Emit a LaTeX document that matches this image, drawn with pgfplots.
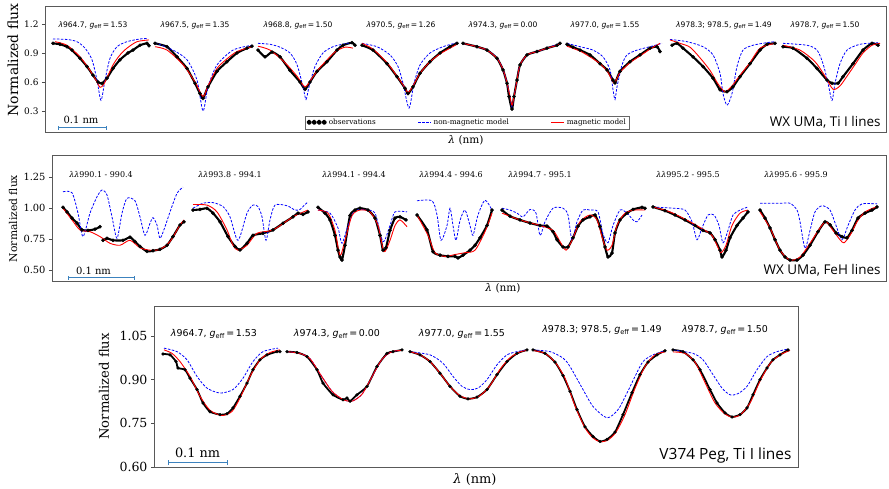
\documentclass[border=0pt]{standalone}
\usepackage{pgfplots}
\pgfplotsset{compat=1.18}
\usepackage{fontspec}
\setmainfont{DejaVu Serif}
\newfontfamily\annfont{DejaVu Sans}
\newfontfamily\cornerfont{Open Sans}
\definecolor{sbar}{RGB}{60,130,190}
\newcommand\fs[1]{\fontsize{#1}{#1}\selectfont}
\newcommand\glab[2]{{\annfont{\itshape λ}#1, {\itshape g}\textsubscript{eff}\,=\,#2}}
\newcommand\flab[1]{{\itshape λλ}#1}
\pgfplotsset{
 panel/.style={scale only axis, anchor=south west, xtick=\empty, ytick pos=left,
   tick align=outside, major tick length=3bp, tick style={black!70, line width=0.6pt},
   axis line style={black!65, line width=0.9pt}, unbounded coords=jump, clip=false,
   /pgf/number format/assume math mode=true},
 obs/.style={black, line width=2.1pt, line join=round, line cap=round, smooth, tension=0.35,
   mark=*, mark size=1.75pt, mark options={line width=0.2pt}},
 nonmag/.style={blue, line width=0.8pt, dash pattern=on 2.5pt off 1.5pt, smooth, tension=0.45},
 mag/.style={red, line width=0.9pt, smooth, tension=0.45}
}
\begin{document}
\begin{tikzpicture}
\useasboundingbox (0,0) rectangle (889bp,489bp);
% ---------------- TOP PANEL ----------------
\begin{axis}[panel, at={(45bp,357bp)}, width=841bp, height=126bp,
  xmin=45, xmax=886, ymin=0.083, ymax=1.386,
  ytick={0.3,0.6,0.9,1.2},
  yticklabel style={font=\fs{9}, /pgf/number format/fixed, /pgf/number format/fixed zerofill, /pgf/number format/precision=1},
  legend columns=3, legend cell align=left,
  legend style={at={(0.502,0.077)}, anchor=center, draw=black!60, line width=0.5pt, fill=white,
    inner sep=1pt, font=\fs{7.3}, /tikz/every even column/.append style={column sep=40bp}}]
\addplot[obs, legend image code/.code={\foreach \i in {0,5,10,15}{\fill[black] (\i bp,0bp) circle (1.6bp);}}] coordinates {
(53,1.00)(60,0.99)(67,0.965)(72,0.93)(80,0.845)(87,0.76)(93,0.67)(98,0.60)(102,0.585)(107,0.64)(113,0.74)(120,0.83)(128,0.90)(133,0.93)(140,0.98)(147,1.00)(149,0.975)
(nan,nan)
(155,1.0)(167,0.965)(177,0.86)(187,0.74)(195,0.587)(200,0.48)(203,0.43)(208,0.55)(217,0.71)(227,0.81)(237,0.90)(247,0.95)(252,0.97)
(nan,nan)
(258,0.93)(265,0.86)(272,0.91)(280,0.86)(290,0.72)(300,0.60)(305,0.525)(310,0.60)(317,0.71)(327,0.81)(337,0.93)(343,0.98)(352,1.007)(355,0.98)
(nan,nan)
(362,0.98)(373,0.93)(387,0.79)(397,0.655)(405,0.535)(408,0.48)(413,0.55)(420,0.69)(430,0.81)(440,0.90)(450,0.965)(457,1.0)
(nan,nan)
(463,1.0)(477,0.965)(487,0.93)(497,0.845)(503,0.725)(507,0.587)(509,0.45)(512,0.32)(514,0.45)(517,0.62)(520,0.776)(527,0.88)(537,0.915)(547,0.95)(557,0.98)(560,1.0)
(nan,nan)
(567,0.99)(573,0.96)(580,0.93)(590,0.88)(600,0.79)(607,0.725)(613,0.62)(615,0.59)(620,0.71)(630,0.81)(640,0.88)(650,0.95)(657,0.965)(660,0.915)
(nan,nan)
(672,0.98)(677,1.0)(683,0.95)(693,0.86)(703,0.76)(713,0.64)(720,0.52)(727,0.50)(733,0.55)(740,0.655)(750,0.79)(760,0.93)(767,0.99)(775,1.0)
(nan,nan)
(783,0.965)(793,0.95)(807,0.845)(817,0.74)(827,0.62)(832,0.587)(838,0.587)(843,0.655)(853,0.79)(863,0.93)(872,1.0)(878,0.98)
};
\addlegendentry{observations}
\addplot[nonmag, legend image code/.code={\draw[blue, line width=0.8pt, dash pattern=on 2.5pt off 1.5pt] (0bp,0bp) -- (13bp,0bp);}] coordinates {
(53,1.045)(67,1.04)(77,1.017)(85,0.95)(92,0.83)(97,0.62)(101,0.41)(105,0.62)(110,0.845)(117,0.965)(127,1.017)(140,1.045)(148,1.05)
(nan,nan)
(155,1.007)(173,0.93)(187,0.83)(197,0.62)(203,0.30)(208,0.55)(217,0.776)(233,0.93)(252,0.98)
(nan,nan)
(258,1.0)(270,0.99)(280,0.96)(290,0.90)(297,0.78)(303,0.55)(306,0.42)(309,0.55)(315,0.76)(323,0.90)(333,0.965)(347,1.0)(353,1.007)
(nan,nan)
(362,1.0)(377,0.965)(390,0.88)(398,0.76)(403,0.587)(409,0.33)(414,0.587)(420,0.776)(430,0.90)(443,0.965)(457,1.007)
(nan,nan)
(463,1.0)(477,0.965)(487,0.93)(497,0.85)(503,0.73)(507,0.59)(510,0.45)(512,0.34)(514,0.45)(517,0.62)(520,0.776)(527,0.88)(537,0.915)(547,0.95)(560,1.0)
(nan,nan)
(567,1.0)(580,0.965)(593,0.93)(603,0.86)(610,0.725)(613,0.52)(615,0.42)(617,0.55)(622,0.776)(627,0.88)(637,0.93)(650,0.965)(662,1.0)
(nan,nan)
(670,1.04)(687,1.017)(703,0.965)(713,0.88)(720,0.69)(723,0.48)(727,0.36)(732,0.48)(737,0.76)(743,0.93)(753,0.98)(767,1.007)(775,1.017)
(nan,nan)
(783,1.0)(807,0.98)(817,0.93)(823,0.79)(828,0.587)(832,0.41)(835,0.587)(840,0.79)(847,0.93)(860,0.99)(878,1.007)
};
\addlegendentry{non-magnetic model}
\addplot[mag, legend image code/.code={\draw[red, line width=0.9pt] (0bp,0bp) -- (13bp,0bp);}] coordinates {
(55,1.017)(67,0.98)(80,0.86)(90,0.72)(97,0.60)(100,0.545)(104,0.58)(113,0.776)(120,0.88)(127,0.95)(137,1.017)(149,1.035)
(nan,nan)
(155,0.965)(167,0.93)(183,0.78)(195,0.60)(203,0.45)(208,0.56)(217,0.74)(227,0.84)(237,0.915)(252,0.965)
(nan,nan)
(258,0.97)(270,0.93)(285,0.80)(297,0.66)(305,0.55)(312,0.64)(320,0.75)(335,0.91)(345,0.96)(353,0.95)
(nan,nan)
(362,1.0)(373,0.94)(387,0.80)(397,0.66)(405,0.54)(408,0.49)(413,0.56)(420,0.69)(430,0.81)(440,0.89)(450,0.95)(457,0.99)
(nan,nan)
(463,1.0)(477,0.965)(487,0.93)(497,0.845)(503,0.73)(507,0.59)(510,0.45)(512,0.36)(514,0.45)(517,0.62)(520,0.776)(527,0.88)(537,0.915)(547,0.95)(557,0.98)(560,1.0)
(nan,nan)
(567,0.97)(580,0.92)(590,0.86)(600,0.79)(608,0.70)(614,0.59)(620,0.70)(630,0.80)(640,0.87)(650,0.94)(660,1.0)
(nan,nan)
(670,1.035)(680,1.0)(690,0.96)(700,0.85)(710,0.72)(718,0.58)(725,0.50)(732,0.56)(740,0.67)(750,0.80)(760,0.95)(775,1.0)
(nan,nan)
(783,0.98)(800,0.93)(815,0.81)(825,0.66)(833,0.525)(840,0.56)(847,0.66)(855,0.78)(863,0.90)(872,0.98)(880,1.0)
};
\addlegendentry{magnetic model}
\end{axis}
% ---------------- MIDDLE PANEL ----------------
\begin{axis}[panel, at={(52bp,207.3bp)}, width=834bp, height=126bp,
  xmin=52, xmax=886, ymin=0.405, ymax=1.425,
  ytick={0.5,0.75,1.0,1.25},
  yticklabel style={font=\fs{9.9}, /pgf/number format/fixed, /pgf/number format/fixed zerofill, /pgf/number format/precision=2}]
\addplot[obs] coordinates {
(63,1.007)(67,0.97)(72,0.92)(77,0.88)(82,0.824)(88,0.82)(95,0.83)(100,0.85)
(nan,nan)
(103,0.74)(107,0.756)(113,0.74)(123,0.74)(130,0.765)(135,0.73)(140,0.69)(147,0.65)(153,0.656)(160,0.667)(167,0.70)(173,0.77)(180,0.864)(184,0.89)
(nan,nan)
(193,0.985)(200,0.99)(207,0.999)(213,0.96)(220,0.89)(228,0.77)(235,0.69)(240,0.662)(247,0.716)(253,0.78)(263,0.797)(273,0.824)(283,0.878)(293,0.93)(298,0.96)(303,0.95)(308,0.97)
(nan,nan)
(318,1.007)(325,0.96)(330,0.905)(335,0.78)(338,0.66)(340,0.605)(342,0.58)(345,0.70)(350,0.94)(355,0.985)(360,1.0)(368,0.985)(375,0.92)(380,0.78)(383,0.66)(386,0.68)(390,0.82)(395,0.92)(400,0.93)(406,0.905)
(nan,nan)
(417,0.945)(427,0.824)(433,0.648)(440,0.62)(448,0.61)(455,0.61)(458,0.597)(463,0.62)(470,0.66)(475,0.70)(480,0.76)(487,0.86)(492,0.985)
(nan,nan)
(502,0.985)(510,0.935)(520,0.905)(530,0.88)(540,0.86)(547,0.855)(553,0.81)(557,0.745)(563,0.686)(568,0.686)(573,0.76)(578,0.855)(583,0.905)(590,0.93)(595,0.945)(600,0.85)(605,0.686)(608,0.605)(612,0.637)(615,0.80)(620,0.905)(627,0.96)(633,0.99)(642,1.007)(645,0.999)
(nan,nan)
(653,1.01)(665,0.98)(675,0.945)(685,0.905)(695,0.86)(703,0.82)(710,0.80)(715,0.745)(720,0.66)(722,0.605)(726,0.66)(730,0.76)(737,0.86)(743,0.92)(748,0.97)
(nan,nan)
(760,0.985)(765,0.92)(770,0.84)(775,0.745)(780,0.66)(785,0.605)(790,0.58)(797,0.58)(803,0.62)(810,0.70)(818,0.81)(825,0.89)(830,0.865)(836,0.80)(842,0.77)(847,0.76)(852,0.82)(858,0.92)(865,0.96)(872,0.985)(877,1.01)
};
\addplot[nonmag] coordinates {
(63,1.133)(72,1.125)(78,0.96)(83,0.77)(90,0.96)(97,1.093)(102,1.147)(107,1.107)(112,0.93)(117,0.756)(122,0.96)(127,1.08)(135,1.06)(140,0.93)(145,0.78)(150,0.878)(153,0.923)(157,0.864)(160,0.756)(165,0.85)(170,0.97)(177,1.12)(183,1.17)
(nan,nan)
(193,1.0)(203,1.04)(213,1.045)(223,1.013)(230,0.93)(238,0.74)(247,0.96)(253,1.025)(258,1.013)(262,0.93)(266,0.74)(270,0.905)(275,1.025)(287,1.02)(295,0.985)(300,0.99)(305,1.03)(308,1.05)
(nan,nan)
(318,0.985)(330,0.96)(338,0.84)(342,0.716)(348,0.86)(355,0.985)(365,0.985)(375,0.96)(383,0.73)(390,0.86)(395,0.97)(407,0.97)
(nan,nan)
(417,1.06)(432,1.06)(437,0.945)(441,0.74)(447,0.86)(450,1.0)(453,0.86)(456,0.74)(460,0.9)(465,0.985)(470,0.86)(473,0.78)(478,0.945)(485,1.065)(492,0.985)
(nan,nan)
(502,1.0)(510,0.985)(517,0.96)(523,0.93)(530,0.99)(536,0.96)(540,0.78)(545,0.89)(553,1.0)(563,1.0)(568,0.945)(572,0.74)(577,0.89)(583,0.985)(590,0.985)(598,0.97)(603,0.79)(608,0.72)(613,0.86)(620,0.985)(627,0.96)(633,0.905)(637,0.89)(642,0.945)
(nan,nan)
(653,1.01)(673,1.0)(685,0.985)(692,0.89)(697,0.745)(702,0.84)(708,0.945)(714,0.945)(719,0.86)(723,0.72)(728,0.82)(733,0.945)(740,0.985)(748,1.01)
(nan,nan)
(760,1.04)(780,1.04)(790,1.04)(797,0.985)(800,0.89)(805,0.676)(810,0.82)(815,0.97)(822,1.02)(830,0.985)(836,0.86)(842,0.745)(848,0.86)(855,0.985)(862,1.035)(877,1.035)
};
\addplot[mag] coordinates {
(63,1.0)(72,0.905)(80,0.824)(90,0.81)(100,0.77)(110,0.716)(120,0.70)(130,0.74)(140,0.68)(150,0.66)(160,0.667)(170,0.73)(180,0.864)(184,0.905)
(nan,nan)
(193,1.03)(207,1.025)(217,0.97)(227,0.824)(233,0.70)(238,0.66)(247,0.70)(257,0.797)(273,0.824)(293,0.93)(308,0.985)
(nan,nan)
(318,0.985)(328,0.96)(335,0.82)(340,0.617)(345,0.74)(352,0.94)(360,0.985)(370,0.97)(378,0.86)(384,0.648)(390,0.74)(395,0.86)(400,0.905)(407,0.85)
(nan,nan)
(417,0.945)(428,0.78)(435,0.64)(445,0.61)(455,0.625)(465,0.64)(475,0.66)(485,0.81)(492,0.96)
(nan,nan)
(502,0.96)(520,0.905)(540,0.86)(553,0.82)(560,0.73)(566,0.66)(572,0.74)(580,0.89)(590,0.945)(597,0.905)(603,0.74)(607,0.66)(612,0.70)(617,0.86)(625,0.96)(635,0.985)(645,0.985)
(nan,nan)
(653,1.01)(670,0.97)(690,0.89)(705,0.82)(712,0.78)(717,0.70)(721,0.64)(726,0.70)(732,0.86)(740,0.96)(748,0.985)
(nan,nan)
(760,0.97)(770,0.84)(780,0.66)(790,0.58)(800,0.605)(810,0.716)(820,0.84)(826,0.89)(833,0.82)(840,0.745)(844,0.72)(850,0.78)(857,0.89)(865,0.97)(877,1.013)
};
\end{axis}
% ---------------- BOTTOM PANEL ----------------
\begin{axis}[panel, at={(154bp,21.3bp)}, width=644bp, height=161.7bp,
  xmin=154, xmax=798, ymin=0.598, ymax=1.1525,
  ytick={0.6,0.75,0.9,1.05},
  yticklabel style={font=\fs{12.6}, /pgf/number format/fixed, /pgf/number format/fixed zerofill, /pgf/number format/precision=2},
  obs/.append style={line width=1.8pt, mark size=1.55pt}]
\addplot[obs] coordinates {
(163,0.988)(170,0.985)(176,0.962)(178,0.94)(185,0.934)(190,0.905)(197,0.866)(203,0.82)(210,0.79)(220,0.78)(227,0.783)(233,0.803)(240,0.843)(247,0.888)(253,0.934)(260,0.968)(267,0.985)(277,0.996)(280,0.996)
(nan,nan)
(287,0.996)(297,0.993)(307,0.979)(317,0.934)(323,0.888)(333,0.848)(343,0.831)(347,0.837)(350,0.826)(357,0.848)(367,0.877)(377,0.945)(387,0.99)(393,0.996)(402,1.002)
(nan,nan)
(410,0.996)(420,0.985)(430,0.962)(440,0.922)(450,0.877)(460,0.843)(468,0.834)(477,0.84)(487,0.866)(497,0.917)(507,0.962)(517,0.99)(527,1.002)
(nan,nan)
(533,1.002)(545,0.99)(555,0.96)(563,0.914)(570,0.86)(577,0.797)(585,0.738)(593,0.705)(600,0.688)(607,0.695)(615,0.72)(623,0.78)(632,0.855)(640,0.917)(648,0.96)(657,0.985)(665,0.999)
(nan,nan)
(673,1.002)(683,0.996)(693,0.968)(700,0.934)(710,0.866)(717,0.82)(725,0.786)(732,0.772)(740,0.78)(747,0.803)(753,0.848)(760,0.9)(767,0.94)(773,0.968)(780,0.985)(788,1.002)
};
\addplot[nonmag] coordinates {
(164,1.008)(177,0.996)(187,0.968)(197,0.911)(207,0.871)(220,0.854)(233,0.866)(243,0.905)(253,0.962)(263,0.996)(278,1.008)
(nan,nan)
(287,0.996)(300,0.99)(310,0.972)(320,0.92)(332,0.86)(343,0.832)(352,0.826)(362,0.85)(372,0.91)(382,0.97)(392,0.996)(402,1.0)
(nan,nan)
(410,0.996)(430,0.985)(443,0.956)(453,0.911)(462,0.877)(470,0.866)(478,0.871)(487,0.9)(497,0.951)(507,0.985)(517,0.996)(527,1.002)
(nan,nan)
(533,1.002)(550,0.996)(563,0.974)(570,0.945)(583,0.866)(593,0.808)(607,0.769)(618,0.797)(627,0.854)(635,0.911)(643,0.962)(653,0.985)(665,0.999)
(nan,nan)
(673,1.002)(693,0.99)(703,0.968)(713,0.917)(722,0.871)(730,0.848)(738,0.852)(747,0.877)(757,0.934)(767,0.979)(777,0.996)(788,1.005)
};
\addplot[mag] coordinates {
(164,1.002)(172,0.99)(180,0.962)(190,0.911)(200,0.843)(210,0.795)(222,0.777)(232,0.791)(240,0.837)(250,0.911)(260,0.968)(270,0.993)(280,1.002)
(nan,nan)
(287,0.996)(300,0.99)(310,0.972)(320,0.92)(332,0.86)(343,0.832)(352,0.826)(362,0.85)(372,0.91)(382,0.97)(392,0.996)(402,1.0)
(nan,nan)
(410,0.996)(420,0.985)(430,0.962)(440,0.922)(450,0.877)(460,0.845)(470,0.834)(480,0.845)(490,0.88)(500,0.935)(510,0.975)(520,0.995)(527,1.0)
(nan,nan)
(533,1.0)(545,0.99)(555,0.96)(565,0.905)(575,0.81)(585,0.735)(593,0.7)(600,0.687)(608,0.693)(616,0.72)(625,0.78)(635,0.87)(645,0.945)(655,0.985)(665,0.995)
(nan,nan)
(673,0.995)(685,0.99)(695,0.96)(705,0.89)(715,0.82)(725,0.782)(732,0.772)(740,0.778)(750,0.82)(760,0.895)(770,0.955)(780,0.985)(790,1.0)
};
\end{axis}
% ---------------- ANNOTATIONS ----------------
\node[rotate=90, font=\fs{14}] at (13bp,429bp) {Normalized flux};
\node[rotate=90, font=\fs{10.8}] at (13bp,270.5bp) {Normalized flux};
\node[rotate=90, font=\fs{13.2}] at (104bp,102.5bp) {Normalized flux};
\node[font=\fs{10.6}] at (466bp,348.3bp) {\textit{λ} (nm)};
\node[font=\fs{10.6}] at (503bp,201bp) {\textit{λ} (nm)};
\node[font=\fs{13}] at (475bp,9bp) {\textit{λ} (nm)};
\draw[sbar, line width=0.9pt] (58bp,361.3bp) -- (106bp,361.3bp) (58bp,359.3bp) -- (58bp,363.3bp) (106bp,359.3bp) -- (106bp,363.3bp);
\node[font=\fs{10}] at (81bp,369.5bp) {0.1 nm};
\draw[sbar, line width=0.9pt] (68bp,211.3bp) -- (134bp,211.3bp) (68bp,209.3bp) -- (68bp,213.3bp) (134bp,209.3bp) -- (134bp,213.3bp);
\node[font=\fs{10}] at (93.5bp,218.5bp) {0.1 nm};
\draw[sbar, line width=1pt] (168bp,26.3bp) -- (227bp,26.3bp) (168bp,23.8bp) -- (168bp,28.8bp) (227bp,23.8bp) -- (227bp,28.8bp);
\node[font=\fs{12.9}] at (197.5bp,36bp) {0.1 nm};
\node[anchor=east, font=\cornerfont\fs{13.5}] at (884bp,366.3bp) {WX UMa, Ti I lines};
\node[anchor=east, font=\cornerfont\fs{13.5}] at (884bp,219bp) {WX UMa, FeH lines};
\node[anchor=east, font=\cornerfont\fs{15.5}] at (795bp,34bp) {V374 Peg, Ti I lines};
\begin{scope}[every node/.style={font=\fs{7.6}}]
\node at (93bp,464bp) {\glab{964.7}{1.53}};
\node at (195bp,464bp) {\glab{967.5}{1.35}};
\node at (298bp,464bp) {\glab{968.8}{1.50}};
\node at (401bp,464bp) {\glab{970.5}{1.26}};
\node at (503bp,464bp) {\glab{974.3}{0.00}};
\node at (605bp,464bp) {\glab{977.0}{1.55}};
\node at (724bp,464bp) {\glab{978.3; 978.5}{1.49}};
\node at (825bp,464bp) {\glab{978.7}{1.50}};
\end{scope}
\begin{scope}[every node/.style={font=\fs{8}}]
\node at (101bp,314bp) {\flab{990.1 - 990.4}};
\node at (230bp,314bp) {\flab{993.8 - 994.1}};
\node at (354bp,314bp) {\flab{994.1 - 994.4}};
\node at (451bp,314bp) {\flab{994.4 - 994.6}};
\node at (540bp,314bp) {\flab{994.7 - 995.1}};
\node at (688bp,314bp) {\flab{995.2 - 995.5}};
\node at (796bp,314bp) {\flab{995.6 - 995.9}};
\end{scope}
\begin{scope}[every node/.style={font=\fs{9.5}}]
\node at (214bp,155.5bp) {\glab{964.7}{1.53}};
\node at (337bp,155.5bp) {\glab{974.3}{0.00}};
\node at (462bp,155.5bp) {\glab{977.0}{1.55}};
\node at (602bp,159.5bp) {\glab{978.3; 978.5}{1.49}};
\node at (725bp,159.5bp) {\glab{978.7}{1.50}};
\end{scope}
\end{tikzpicture}
\end{document}
